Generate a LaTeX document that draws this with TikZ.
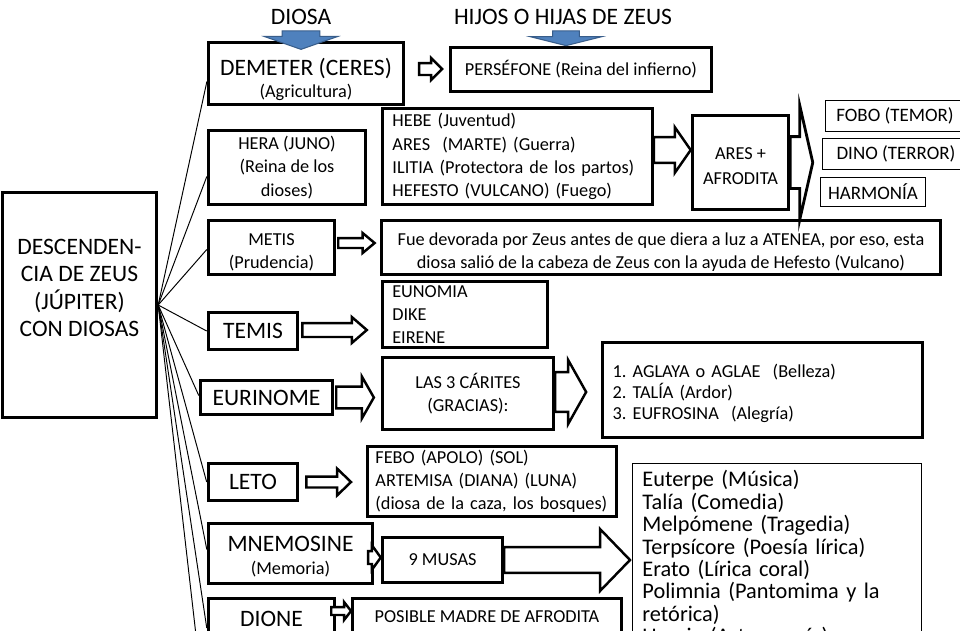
\documentclass[tikz,border=0pt]{standalone}
\usepackage{fontspec}
\setmainfont{Carlito}
\usetikzlibrary{calc}
\frenchspacing
\definecolor{tinta}{HTML}{000000}
\definecolor{azul}{HTML}{4F81BD}
\definecolor{azulborde}{HTML}{385D8A}
\newcommand\fgrande{\fontsize{13.4}{15.5}\selectfont}
\newcommand\fchico{\fontsize{10.4}{13.2}\selectfont}
\newcommand\fmedio{\fontsize{10.8}{13}\selectfont}
\newcommand\fmusa{\fontsize{12.7}{12.75}\selectfont}
\newcommand\alto[1]{\rule{0pt}{#1}}
\def\pxu{0.5669pt}
% hollow block arrow pointing right: [style]{from}{to}{shaft half}{head half}{head length}
\newcommand\flechader[6][]{%
  \draw[flecha,#1] let \p1=(#2), \p2=(#3) in
    (\x1,\y1+#4*\pxu) -- (\x2-#6*\pxu,\y1+#4*\pxu) -- (\x2-#6*\pxu,\y1+#5*\pxu)
    -- (\x2,\y1) -- (\x2-#6*\pxu,\y1-#5*\pxu) -- (\x2-#6*\pxu,\y1-#4*\pxu)
    -- (\x1,\y1-#4*\pxu) -- cycle;}
% blue block arrow pointing down
\newcommand\flechabaja[6][]{%
  \draw[flechaazul,#1] let \p1=(#2), \p2=(#3) in
    (\x1-#4*\pxu,\y1) -- (\x1+#4*\pxu,\y1) -- (\x1+#4*\pxu,\y2+#6*\pxu)
    -- (\x1+#5*\pxu,\y2+#6*\pxu) -- (\x1,\y2) -- (\x1-#5*\pxu,\y2+#6*\pxu)
    -- (\x1-#4*\pxu,\y2+#6*\pxu) -- cycle;}
\tikzset{
  titulo/.style={font=\fgrande, text=tinta},
  caja/.style 2 args={minimum width=#1*\pxu, minimum height=#2*\pxu},
  diosa/.style={draw=tinta, fill=white, line width=1.7pt, align=center,
    inner sep=2pt, font=\fchico},
  lista/.style={draw=tinta, fill=white, line width=1.7pt, align=left,
    inner xsep=5.67pt, inner ysep=2pt, font=\fchico},
  fino/.style={draw=tinta, fill=white, line width=0.6pt, align=center,
    inner sep=2pt, font=\fmedio},
  rama/.style={draw=tinta, line width=0.55pt},
  flecha/.style={draw=tinta, fill=white, line width=1.4pt, line join=miter},
  flechaazul/.style={draw=azulborde, fill=azul, line width=0.6pt}
}
\begin{document}
\begin{tikzpicture}[x=0.02cm,y=-0.02cm]
\useasboundingbox (0,0) rectangle (960,630);
\fill[white] (0,0) rectangle (960,630);
\clip (0,0) rectangle (960,630);

\node[titulo] (tdiosa) at (301,17) {DIOSA};
\node[titulo] (thijos) at (563,17) {HIJOS O HIJAS DE ZEUS};

\node[diosa, caja={155}{226}, font=\fgrande] (zeus) at (79.5,305)
  {DESCENDEN-\\CIA DE ZEUS\\(JÚPITER)\\CON DIOSAS\\[4pt]\mbox{}};

% diosas
\node[diosa, caja={196}{53}, font=\fgrande] (dem) at (306,73.5)
  {\alto{16.3pt}DEMETER (CERES)\\[-2.7pt]\fchico (Agricultura)};
\node[diosa, caja={158}{75}] (hera) at (287,167.5) {HERA (JUNO)\\(Reina de los\\dioses)};
\node[diosa, caja={127}{51}] (metis) at (271.5,247.5) {\alto{11.8pt}METIS\\(Prudencia)};
\node[diosa, caja={90}{38}, font=\fgrande] (temis) at (253,331) {TEMIS};
\node[diosa, caja={133}{35}, font=\fgrande] (euri) at (266.5,397.5) {EURINOME};
\node[diosa, caja={90}{38}, font=\fgrande] (leto) at (253,482) {LETO};
\node[diosa, caja={165}{61}, font=\fgrande] (mnem) at (290.5,553.5)
  {\alto{12.1pt}MNEMOSINE\\[-2.3pt]\fchico (Memoria)};
\node[diosa, caja={127}{42}, font=\fgrande] (dione) at (271.5,619) {DIONE};
\coordinate (sig) at (208,740);

\foreach \d/\dy in {dem/8,hera/9,metis/2,temis/0,euri/-2,leto/0,mnem/-4,dione/9}
  \draw[rama] (zeus.east) -- ($(\d.west)+(0,\dy)$);
\draw[rama] (zeus.east) -- (sig);

% hijos e hijas
\node[diosa, caja={262}{45}] (pers) at (581,69.5) {PERSÉFONE (Reina del infierno)};
\node[lista, caja={271}{97}, text width=142.3pt] (hebe) at (517.5,156.5)
  {HEBE (Juventud)\\ARES~~(MARTE) (Guerra)\\ILITIA (Protectora de los partos)\\HEFESTO (VULCANO) (Fuego)};
\node[diosa, caja={97}{95}] (ares) at (740.5,162.5) {\alto{11.1pt}ARES +\\[1pt]AFRODITA};
\node[fino, caja={140}{32}] (fobo) at (895,116) {FOBO (TEMOR)};
\node[fino, caja={148}{32}] (dino) at (896,154) {DINO (TERROR)};
\node[fino, caja={106}{30}] (harm) at (873,192) {HARMONÍA};
\node[diosa, caja={562}{51}] (fue) at (661,247.5)
  {\alto{12.3pt}Fue devorada por Zeus antes de que diera a luz a ATENEA, por eso, esta\\diosa salió de la cabeza de Zeus con la ayuda de Hefesto (Vulcano)};
\node[lista, caja={166}{67}, text width=82.8pt] (euno) at (465,314.5) {EUNOMIA\\DIKE\\EIRENE};
\node[diosa, caja={172}{73}] (las3) at (468,393.5) {LAS 3 CÁRITES\\(GRACIAS):};
\node[lista, caja={321}{96}, text width=170.6pt, font=\fontsize{10.4}{12}\selectfont] (agla) at (762.5,390)
  {\alto{11.3pt}1. AGLAYA o AGLAE~~(Belleza)\\2. TALÍA (Ardor)\\3. EUFROSINA~~(Alegría)};
\node[lista, caja={250}{67}, text width=132.7pt, inner xsep=4.5pt] (febo) at (492,481.5)
  {FEBO (APOLO) (SOL)\\ARTEMISA (DIANA) (LUNA)\\(diosa de la caza, los bosques)};
\node[diosa, caja={121}{46}] (nueve) at (442.5,560) {9 MUSAS};
\node[fino, anchor=north west, align=left, text width=153.1pt, inner xsep=5.67pt,
  inner ysep=4pt, font=\fmusa] (musas) at (632,463)
  {Euterpe (Música)\\Talía (Comedia)\\Melpómene (Tragedia)\\Terpsícore (Poesía lírica)\\Erato (Lírica coral)\\Polimnia (Pantomima y la\\retórica)\\Urania (Astronomía)};
\node[diosa, caja={270}{38}] (posi) at (487,617) {POSIBLE MADRE DE AFRODITA};

% flechas
\flechabaja{tdiosa.south}{$(dem.north)+(0,8)$}{19}{37}{13}
\flechabaja{$(thijos.south)+(3,0)$}{pers.north}{13.5}{36}{9}
\flechader{$(dem.east)+(14,-4.5)$}{$(pers.west)+(-7,0)$}{6}{11}{11}
\flechader{$(hebe.east)+(0,-6.5)$}{ares.west}{13}{23}{16}
\flechader[line width=1.6pt]{ares.east}{$(dino.west)+(-9,0)$}{26}{57}{13}
\flechader{$(metis.east)+(2,-4.5)$}{$(fue.west)+(-5,0)$}{5}{10}{12}
\flechader{$(temis.east)+(3,-1)$}{$(euno.west)+(-14,0)$}{7}{13}{15}
\flechader{$(euri.east)+(2,0)$}{$(las3.west)+(-7,0)$}{11}{21}{12}
\flechader{$(las3.east)+(0,-1.5)$}{$(agla.west)+(-15,0)$}{20}{32}{18}
\flechader{$(leto.east)+(7,0)$}{$(febo.west)+(-15,0)$}{5.5}{13.5}{14}
\flechader{$(mnem.east)+(-6,4)$}{nueve.west}{6.5}{12.5}{9}
\flechader{nueve.east}{$(musas.west)+(-2,0)$}{13}{31}{30}
\flechader{$(dione.east)+(-5,-8)$}{posi.west}{4}{9}{7}
\end{tikzpicture}
\end{document}
